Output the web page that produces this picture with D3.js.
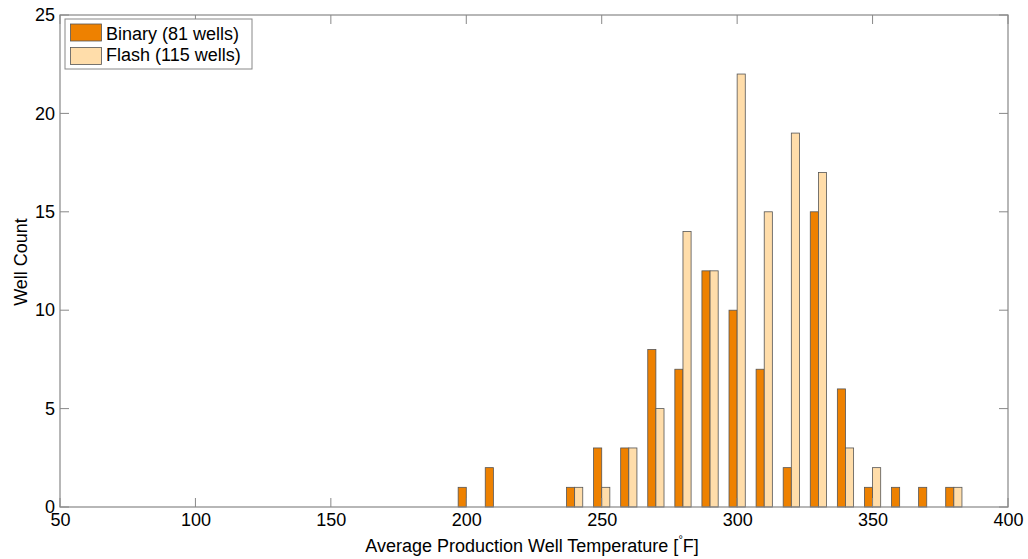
<!DOCTYPE html>
<html><head><meta charset="utf-8">
<script src="https://cdn.jsdelivr.net/npm/d3@7"></script>
<style>body{margin:0;background:#fff}svg{display:block}text{font-family:"Liberation Sans",Arial,sans-serif}</style>
</head><body>
<svg id="c" width="1028" height="559"></svg>
<script>
const bins = [200,210,220,230,240,250,260,270,280,290,300,310,320,330,340,350,360,370,380];
const binary = [1,2,0,0,1,3,3,8,7,12,10,7,2,15,6,1,1,1,1];
const flash  = [0,0,0,0,1,1,3,5,14,12,22,15,19,17,3,2,0,0,1];
const seriesNames = ["Binary (81 wells)","Flash (115 wells)"];
const xTicks = [50,100,150,200,250,300,350,400];
const yTicks = [0,5,10,15,20,25];

const svg = d3.select("#c");
const L=60, R=1008, T=15, B=507;
const FS = 18;
const x = d3.scaleLinear().domain([50,400]).range([L,R]);
const y = d3.scaleLinear().domain([0,25]).range([B,T]);
const colors = ["#EE8100","#FFDDAA"];
const edge = "#555";
const halfW = 3;

const g = svg.append("g");
[binary, flash].forEach((vals, si) => {
  g.selectAll(null).data(bins.map((b,i)=>({b,v:vals[i]})).filter(d=>d.v>0))
    .enter().append("rect")
    .attr("x", d => si===0 ? x(d.b-halfW) : x(d.b))
    .attr("width", d => x(d.b+halfW)-x(d.b))
    .attr("y", d => y(d.v))
    .attr("height", d => y(0)-y(d.v))
    .attr("fill", colors[si]).attr("stroke", edge).attr("stroke-width", 0.8);
});

svg.append("rect").attr("x",L).attr("y",T).attr("width",R-L).attr("height",B-T)
  .attr("fill","none").attr("stroke","#888").attr("stroke-width",1.2);

const xb = svg.append("g").attr("transform",`translate(0,${B})`)
  .call(d3.axisBottom(x).tickValues(xTicks).tickSize(0).tickPadding(6).tickFormat(d3.format("d")));
const yl = svg.append("g").attr("transform",`translate(${L},0)`)
  .call(d3.axisLeft(y).tickValues(yTicks).tickSize(0).tickPadding(5).tickFormat(d3.format("d")));
[xb,yl].forEach(a=>{a.select(".domain").remove(); a.selectAll("text").attr("font-size",FS).attr("fill","#000").attr("font-family","Liberation Sans, Arial, sans-serif");});

const tl = 9;
xTicks.forEach(t=>{
  svg.append("line").attr("x1",x(t)).attr("x2",x(t)).attr("y1",B).attr("y2",B-tl).attr("stroke","#888");
  svg.append("line").attr("x1",x(t)).attr("x2",x(t)).attr("y1",T).attr("y2",T+tl).attr("stroke","#888");
});
yTicks.forEach(t=>{
  svg.append("line").attr("x1",L).attr("x2",L+tl).attr("y1",y(t)).attr("y2",y(t)).attr("stroke","#888");
  svg.append("line").attr("x1",R).attr("x2",R-tl).attr("y1",y(t)).attr("y2",y(t)).attr("stroke","#888");
});

const xl = svg.append("text").attr("x",532).attr("y",552).attr("text-anchor","middle").attr("font-size",FS);
xl.append("tspan").text("Average Production Well Temperature [");
xl.append("tspan").text("°").attr("font-size",11).attr("dy",-9);
xl.append("tspan").text("F]").attr("dy",9);
svg.append("text").attr("transform",`translate(27,262) rotate(-90)`).attr("text-anchor","middle")
  .attr("font-size",FS).text("Well Count");

const lg = svg.append("g");
lg.append("rect").attr("x",65).attr("y",19).attr("width",187).attr("height",50).attr("fill","#fff").attr("stroke","#888");
seriesNames.forEach((n,i)=>{
  lg.append("rect").attr("x",70.5).attr("y",24+i*23.5).attr("width",31).attr("height",17)
    .attr("fill",colors[i]).attr("stroke",edge).attr("stroke-width",0.8);
  lg.append("text").attr("x",106).attr("y",39.5+i*21.5).attr("font-size",FS).text(n);
});
</script>
</body></html>
